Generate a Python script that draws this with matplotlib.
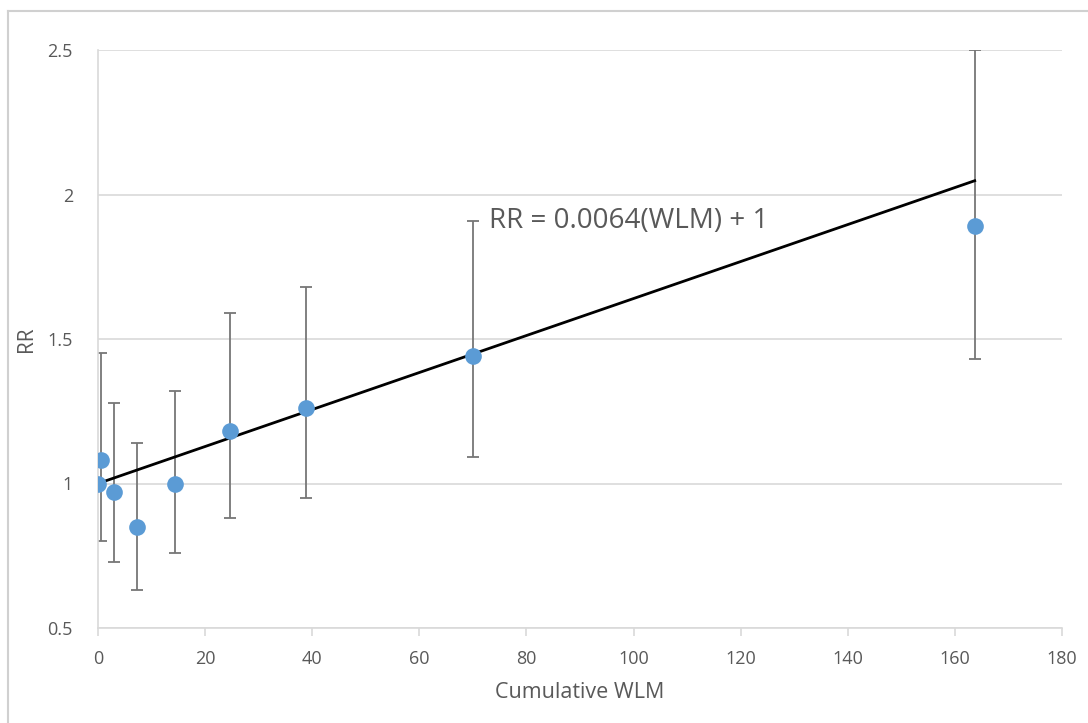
import numpy as np
import matplotlib
matplotlib.use("Agg")
import matplotlib.pyplot as plt
from matplotlib.lines import Line2D

# values
wlm = [0.0, 0.5, 2.9, 7.3, 14.4, 24.6, 38.8, 70.0, 163.7]
rr = [1.00, 1.08, 0.97, 0.85, 1.00, 1.18, 1.26, 1.44, 1.89]
rr_low = [None, 0.80, 0.73, 0.63, 0.76, 0.88, 0.95, 1.09, 1.43]
rr_high = [None, 1.45, 1.28, 1.14, 1.32, 1.59, 1.68, 1.91, 2.50]

slope = 0.0064
intercept = 1.0
fit_label = "RR = 0.0064(WLM) + 1"

x_ticks = [0, 20, 40, 60, 80, 100, 120, 140, 160, 180]
y_ticks = [0.5, 1.0, 1.5, 2.0, 2.5]
y_tick_labels = ["0.5", "1", "1.5", "2", "2.5"]

plt.rcParams['font.family'] = ['Open Sans', 'DejaVu Sans']
txt = '#595959'
grid = '#d9d9d9'

fig = plt.figure(figsize=(10.88, 7.23), dpi=100)
ax = fig.add_axes([98 / 1088, 1 - 628 / 723, (1062 - 98) / 1088, (628 - 50) / 723])

# chart area border (top and left visible in the crop)
fig.add_artist(Line2D([8 / 1088, 8 / 1088], [0, 1 - 11 / 723], transform=fig.transFigure,
                      color='#d0d0d0', lw=1.5))
fig.add_artist(Line2D([8 / 1088, 1], [1 - 11 / 723, 1 - 11 / 723], transform=fig.transFigure,
                      color='#d0d0d0', lw=1.5))

# error bars (the reference category has none)
ex, ey, elo, ehi = [], [], [], []
for x, y, lo, hi in zip(wlm, rr, rr_low, rr_high):
    if lo is None:
        continue
    ex.append(x)
    ey.append(y)
    elo.append(y - lo)
    ehi.append(hi - y)
ax.errorbar(ex, ey, yerr=[elo, ehi], fmt='none', ecolor='#767676',
            elinewidth=1.3, capsize=4, capthick=1.3, zorder=2)

ax.plot(wlm, rr, 'o', color='#5b9bd5', markersize=12, markeredgewidth=0, zorder=4)

fx = np.array([min(wlm), max(wlm)])
ax.plot(fx, slope * fx + intercept, color='black', lw=2, zorder=3)
ax.text(73, 1.91, fit_label, fontsize=20, color=txt, va='center', ha='left')

ax.set_xlim(0, 180)
ax.set_ylim(0.5, 2.5)
ax.set_xticks(x_ticks)
ax.set_yticks(y_ticks)
ax.set_yticklabels(y_tick_labels)
ax.grid(axis='y', color=grid, lw=1.2)
ax.set_axisbelow(True)
for s in ['top', 'right']:
    ax.spines[s].set_visible(False)
for s in ['left', 'bottom']:
    ax.spines[s].set_color(grid)
    ax.spines[s].set_linewidth(1.2)
ax.tick_params(axis='x', colors=grid, labelcolor=txt, labelsize=13, length=6, width=1.2, pad=10)
ax.tick_params(axis='y', length=0, labelcolor=txt, labelsize=13, pad=18)

ax.set_xlabel("Cumulative WLM", fontsize=15.5, color=txt, labelpad=10)
ax.set_ylabel("RR", fontsize=15, color=txt, labelpad=8)

fig.savefig("out.png", dpi=100)
